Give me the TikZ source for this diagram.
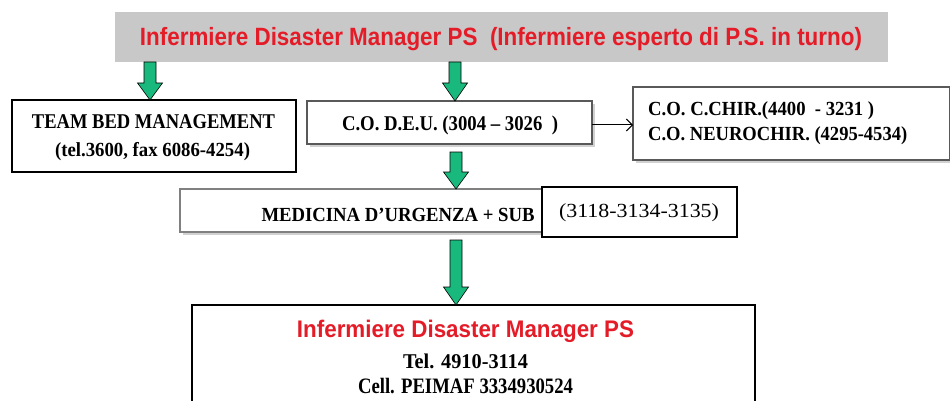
\documentclass[tikz,border=0pt]{standalone}
\usepackage{fontspec}
\usepackage{graphicx}
\usetikzlibrary{arrows.meta}
\setmainfont{Liberation Serif}
\setsansfont{Liberation Sans}
\definecolor{hdrgray}{RGB}{200,200,200}
\definecolor{arrgreen}{RGB}{25,185,125}
\definecolor{hdrred}{RGB}{228,28,40}
\newcommand{\hfit}[2]{\resizebox{#1}{\height}{#2}}
\begin{document}
\begin{tikzpicture}[x=1pt,y=-1pt,
  box/.style={draw=black,line width=1.5pt,fill=white},
  thinbox/.style={draw=black!65,line width=1.3pt,fill=white},
  shadow/.style={fill=black!18},
  garrow/.style={fill=arrgreen,draw=black,line width=0.6pt},
  lbl/.style={inner sep=0pt,anchor=center}]
\useasboundingbox (0,0) rectangle (950,401);
% header
\fill[hdrgray] (115,12) rectangle (888,62);
\node[lbl] (hdr) at (501,39) {\hfit{722pt}{\sffamily\bfseries\fontsize{25}{25}\selectfont\color{hdrred}Infermiere Disaster Manager PS\ \ (Infermiere esperto di P.S. in turno)}};
% team box
\draw[box] (12,100) rectangle (296,172);
\node[lbl] (team1) at (153.5,122) {\hfit{243pt}{\bfseries\fontsize{21}{21}\selectfont TEAM BED MANAGEMENT}};
\node[lbl] (team2) at (152.5,152) {\hfit{195pt}{\bfseries\fontsize{20}{20}\selectfont (tel.3600, fax 6086-4254)}};
% codeu
\fill[shadow] (310,104) rectangle (595,147);
\draw[thinbox] (307,101) rectangle (592,144);
\node[lbl] (codeu) at (450,125.5) {\hfit{216pt}{\bfseries\fontsize{21}{21}\selectfont C.O. D.E.U. (3004 -- 3026\ \ )}};
% right box
\fill[shadow] (636,90) rectangle (953,163);
\draw[thinbox] (633,87) rectangle (950,160);
\node[lbl,anchor=west] (co1) at (648,111) {\hfit{226pt}{\bfseries\fontsize{20}{20}\selectfont C.O. C.CHIR.(4400\ \ - 3231 )}};
\node[lbl,anchor=west] (co2) at (648,135.5) {\hfit{259pt}{\bfseries\fontsize{20}{20}\selectfont C.O. NEUROCHIR. (4295-4534)}};
\coordinate (cR) at (592,125);
\coordinate (cL) at (633,125);
\draw[line width=1pt,-{Straight Barb[length=6pt,width=12pt]}] (cR) -- (cL);
% medicina
\fill[shadow] (183,192) rectangle (723,235);
\draw[draw=black!50,line width=1.2pt,fill=white] (180,189) rectangle (720,232);
\node[lbl] (med) at (398,215) {\hfit{273pt}{\bfseries\fontsize{20}{20}\selectfont MEDICINA D'URGENZA + SUB}};
\draw[box] (542,187) rectangle (737,237);
\node[lbl] (num) at (639,213) {\hfit{160pt}{\fontsize{20}{20}\selectfont (3118-3134-3135)}};
% bottom box
\draw[box] (192,305) rectangle (755,410);
\node[lbl] (bt1) at (465.5,331) {\hfit{337pt}{\sffamily\bfseries\fontsize{24}{24}\selectfont\color{hdrred}Infermiere Disaster Manager PS}};
\node[lbl] (bt2) at (465.5,361) {\hfit{125pt}{\bfseries\fontsize{21}{21}\selectfont Tel. 4910-3114}};
\node[lbl] (bt3) at (465.5,386) {\hfit{215pt}{\bfseries\fontsize{22}{22}\selectfont Cell. PEIMAF 3334930524}};
% green arrows
\newcommand{\garr}[4]{% x, top, headstart, tip
  \draw[garrow] (#1-6,#2) -- (#1+6,#2) -- (#1+6,#3) -- (#1+12.5,#3) -- (#1,#4) -- (#1-12.5,#3) -- (#1-6,#3) -- cycle;}
\garr{150}{62}{83}{100}
\garr{455}{62}{83}{101}
\garr{456}{152}{172}{189}
\garr{456}{240}{287}{305}
\end{tikzpicture}
\end{document}
